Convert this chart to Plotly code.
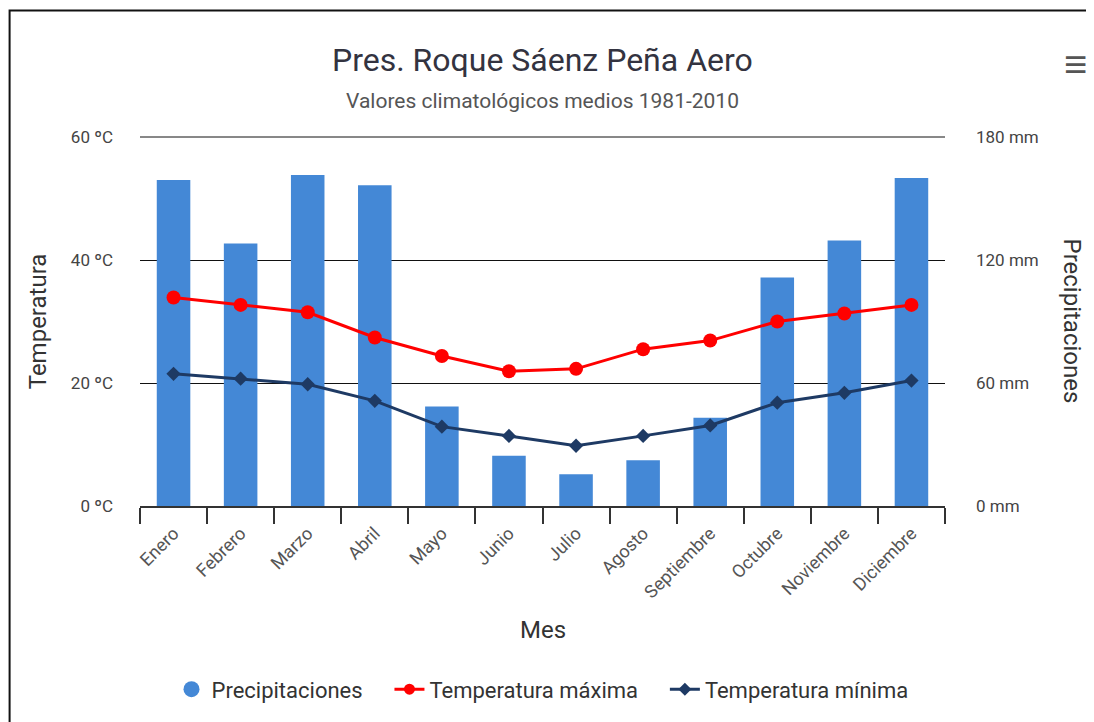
import plotly.graph_objects as go

meses = ["Enero", "Febrero", "Marzo", "Abril", "Mayo", "Junio", "Julio",
         "Agosto", "Septiembre", "Octubre", "Noviembre", "Diciembre"]
precipitaciones = [159, 128, 161.5, 156.5, 48.5, 24.5, 15.5, 22.3, 43, 111.5, 129.5, 160]
temp_max = [33.9, 32.7, 31.5, 27.4, 24.4, 21.9, 22.3, 25.5, 26.9, 30.0, 31.3, 32.7]
temp_min = [21.5, 20.7, 19.8, 17.1, 12.9, 11.4, 9.8, 11.4, 13.1, 16.8, 18.4, 20.4]

BLUE = "#4488D6"
RED = "#FF0000"
NAVY = "#1E3A64"
FONT = "Roboto, Arial, sans-serif"
SP = "\u00a0" * 4

fig = go.Figure()

# bars on the base axis (right side), temperatures on the overlaying axis so lines sit on top
fig.add_trace(go.Bar(
    x=meses, y=precipitaciones, yaxis="y", width=0.5,
    marker=dict(color=BLUE, line=dict(width=0)),
    name="Precipitaciones", showlegend=False,
))
fig.add_trace(go.Scatter(
    x=meses, y=temp_max, yaxis="y2", mode="lines+markers", name="Temperatura máxima",
    line=dict(color=RED, width=3), marker=dict(symbol="circle", size=14, color=RED),
    showlegend=False,
))
fig.add_trace(go.Scatter(
    x=meses, y=temp_min, yaxis="y2", mode="lines+markers", name="Temperatura mínima",
    line=dict(color=NAVY, width=3), marker=dict(symbol="diamond", size=11, color=NAVY),
    showlegend=False,
))

# legend entries (Highcharts style)
fig.add_trace(go.Scatter(x=[None], y=[None], mode="markers", name="Precipitaciones" + SP,
                         marker=dict(symbol="circle", size=20, color=BLUE)))
fig.add_trace(go.Scatter(x=[None], y=[None], mode="lines+markers", name="Temperatura máxima" + SP,
                         line=dict(color=RED, width=3), marker=dict(symbol="circle", size=11, color=RED)))
fig.add_trace(go.Scatter(x=[None], y=[None], mode="lines+markers", name="Temperatura mínima",
                         line=dict(color=NAVY, width=3), marker=dict(symbol="diamond", size=10, color=NAVY)))

fig.update_layout(
    width=1086, height=714,
    margin=dict(l=132, r=149, t=129, b=213),
    paper_bgcolor="white", plot_bgcolor="white",
    font=dict(family=FONT, color="#333333", size=15),
    xaxis=dict(
        type="category", range=[-0.5, 11.5], tickson="boundaries", ticks="outside", ticklen=16,
        tickcolor="#333333", tickwidth=1.5, tickangle=-45, automargin=False,
        showline=True, linecolor="#333333", linewidth=1.5, showgrid=False,
        ticklabelstandoff=8, tickfont=dict(size=18, color="#555555"),
    ),
    yaxis=dict(
        range=[0, 180], tickvals=[0, 60, 120, 180], ticktext=["0 mm", "60 mm", "120 mm", "180 mm"],
        side="right", showgrid=True, gridcolor="#111111", gridwidth=1, zeroline=False,
        ticks="", ticklabelstandoff=30, automargin=False,
        tickfont=dict(size=17, color="#444444"),
    ),
    yaxis2=dict(
        range=[0, 60], tickvals=[0, 20, 40, 60], ticktext=["0 ºC", "20 ºC", "40 ºC", "60 ºC"],
        overlaying="y", side="left", showgrid=False, zeroline=False,
        ticks="", ticklabelstandoff=26, automargin=False,
        tickfont=dict(size=17, color="#444444"),
    ),
    legend=dict(
        orientation="h", x=0.5, xanchor="center", y=-0.497, yanchor="middle",
        font=dict(size=22, color="#333333"), traceorder="normal",
    ),
)

# top gridline (plotly skips the one on the range edge)
fig.add_shape(type="line", xref="paper", yref="paper", x0=0, x1=1, y0=1, y1=1,
              line=dict(color="#111111", width=1), layer="below")

ann = dict(xref="paper", yref="paper", showarrow=False, xanchor="center", yanchor="middle")
fig.add_annotation(text="Pres. Roque Sáenz Peña Aero", x=0.5, y=1.21,
                   font=dict(size=32, color="#333340"), **ann)
fig.add_annotation(text="Valores climatológicos medios 1981-2010", x=0.5, y=1.097,
                   font=dict(size=21, color="#555555"), **ann)
fig.add_annotation(text="Temperatura", x=-0.127, y=0.5, textangle=-90,
                   font=dict(size=24, color="#333333"), **ann)
fig.add_annotation(text="Precipitaciones", x=1.159, y=0.5, textangle=90,
                   font=dict(size=24, color="#333333"), **ann)
fig.add_annotation(text="Mes", x=0.5, y=-0.336, font=dict(size=24, color="#333333"), **ann)
fig.add_annotation(text="≡", x=1.1615, y=1.196, font=dict(size=40, color="#555555"), **ann)

# screenshot frame
fig.add_shape(type="rect", xref="paper", yref="paper", x0=-0.162, y0=-1.0, x1=1.5, y1=1.343,
              line=dict(color="#111111", width=2))

fig.write_html("out.html")
